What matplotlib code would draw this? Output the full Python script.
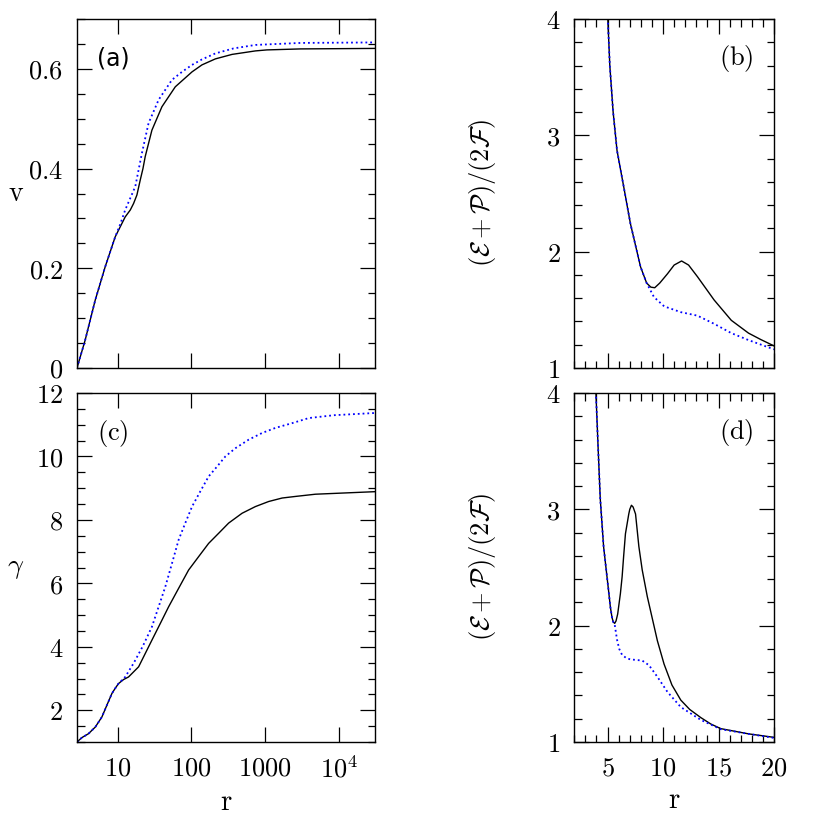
import numpy as np
import matplotlib
matplotlib.use("Agg")
import matplotlib.pyplot as plt
from matplotlib.ticker import FixedLocator, FixedFormatter, MultipleLocator, LogLocator, NullFormatter

plt.rcParams['mathtext.fontset'] = 'cm'
plt.rcParams['font.family'] = ['DejaVu Serif']

# (a) v versus r
a_black_r = [2.83, 3.65, 4.99, 6.81, 9.3, 12.7, 14.9, 16.5, 18.3, 20.3, 22.1, 23.7, 29.2, 39.9, 60.5, 102, 139, 211, 355, 735, 1050, 3000, 30500]
a_black_v = [0.0, 0.056, 0.136, 0.203, 0.263, 0.303, 0.317, 0.33, 0.347, 0.377, 0.40, 0.424, 0.477, 0.524, 0.564, 0.594, 0.608, 0.620, 0.629, 0.636, 0.638, 0.640, 0.641]
a_blue_r = [2.83, 3.65, 4.99, 6.81, 9.3, 11.0, 12.7, 17.4, 21.4, 26.3, 36, 54.6, 74.6, 102, 139, 211, 372, 735, 3000, 30500]
a_blue_v = [0.0, 0.056, 0.136, 0.203, 0.263, 0.29, 0.317, 0.364, 0.431, 0.491, 0.538, 0.578, 0.594, 0.608, 0.619, 0.631, 0.641, 0.648, 0.652, 0.653]

# (c) gamma versus r
c_black_r = [2.83, 3.3, 4.04, 5.0, 6.15, 7.18, 8.4, 9.3, 10.3, 12.1, 14.1, 19.3, 29.2, 38, 49.1, 67, 91.6, 125, 171, 234, 319, 485, 734, 1110, 1690, 2560, 4770, 30500]
c_black_g = [1.0, 1.14, 1.26, 1.47, 1.79, 2.16, 2.53, 2.69, 2.84, 2.97, 3.05, 3.37, 4.21, 4.74, 5.26, 5.84, 6.42, 6.84, 7.26, 7.58, 7.9, 8.21, 8.42, 8.58, 8.69, 8.74, 8.81, 8.89]
c_blue_r = [2.83, 3.3, 4.04, 5.0, 6.15, 7.18, 8.4, 9.3, 10.3, 12.7, 16.5, 22, 29.2, 44.3, 54.6, 67.1, 82.6, 102, 132, 171, 222, 288, 394, 596, 906, 1370, 2310, 3870, 8500, 30500]
c_blue_g = [1.0, 1.14, 1.26, 1.47, 1.79, 2.16, 2.53, 2.69, 2.84, 3.05, 3.48, 4.02, 4.63, 5.89, 6.63, 7.37, 7.9, 8.42, 8.9, 9.37, 9.68, 10.0, 10.26, 10.53, 10.74, 10.9, 11.05, 11.21, 11.3, 11.37]

# (b) (E+P)/(2F) versus r
b_black_r = [5.0, 5.2, 5.5, 5.85, 6.45, 7.06, 7.97, 8.52, 8.9, 9.25, 9.7, 10.4, 11.0, 11.67, 12.3, 13.1, 14.6, 16.15, 17.7, 18.8, 20.0]
b_black_y = [4.05, 3.6, 3.2, 2.87, 2.56, 2.24, 1.87, 1.73, 1.695, 1.69, 1.73, 1.81, 1.885, 1.92, 1.885, 1.785, 1.585, 1.41, 1.30, 1.245, 1.19]
b_blue_r = [5.0, 5.2, 5.5, 5.85, 6.45, 7.06, 7.97, 8.52, 9.18, 10.1, 11.6, 13.1, 14.6, 16.15, 17.7, 20.0]
b_blue_y = [4.05, 3.6, 3.2, 2.87, 2.56, 2.24, 1.87, 1.73, 1.61, 1.53, 1.48, 1.45, 1.38, 1.30, 1.24, 1.16]

# (d) (E+P)/(2F) versus r
d_black_r = [3.93, 4.15, 4.34, 4.64, 5.09, 5.25, 5.4, 5.52, 5.64, 5.76, 5.91, 6.155, 6.31, 6.45, 6.61, 6.91, 7.0, 7.15, 7.3, 7.52, 7.82, 8.12, 8.58, 9.49, 10.09, 10.8, 11.6, 12.4, 13.4, 14.3, 15.2, 17.7, 20.0]
d_black_y = [4.05, 3.52, 3.09, 2.68, 2.30, 2.16, 2.07, 2.03, 2.02, 2.04, 2.10, 2.276, 2.42, 2.6, 2.79, 2.96, 3.0, 3.035, 3.02, 2.96, 2.68, 2.48, 2.25, 1.87, 1.67, 1.49, 1.36, 1.28, 1.21, 1.155, 1.115, 1.07, 1.04]
d_blue_r = [3.93, 4.15, 4.34, 4.64, 5.09, 5.25, 5.4, 5.52, 5.64, 5.85, 6.05, 6.3, 6.7, 7.06, 7.6, 8.12, 8.73, 9.49, 10.4, 11.6, 13.4, 15.2, 17.7, 20.0]
d_blue_y = [4.05, 3.52, 3.09, 2.68, 2.30, 2.16, 2.07, 2.03, 2.01, 1.88, 1.80, 1.75, 1.72, 1.71, 1.705, 1.70, 1.66, 1.56, 1.43, 1.30, 1.19, 1.11, 1.07, 1.035]

log_ticks = [10, 100, 1000, 1e4]
log_labels = ['10', '100', '1000', '10^4']
v_ticks = [0, 0.2, 0.4, 0.6]
v_labels = ['0', '0.2', '0.4', '0.6']
g_ticks = [2, 4, 6, 8, 10, 12]
g_labels = ['2', '4', '6', '8', '10', '12']
e_ticks = [1, 2, 3, 4]
e_labels = ['1', '2', '3', '4']
lin_ticks = [5, 10, 15, 20]
lin_labels = ['5', '10', '15', '20']

fig = plt.figure(figsize=(8.17, 8.17), dpi=100)
W, H = 817.0, 817.0
def box(l, t, r, b):
    return [l / W, 1 - b / H, (r - l) / W, (b - t) / H]

ax_a = fig.add_axes(box(77, 19, 375, 368))
ax_c = fig.add_axes(box(77, 393, 375, 742))
ax_b = fig.add_axes(box(574.3, 19, 774, 368))
ax_d = fig.add_axes(box(574.3, 393, 774, 742))

def mathfmt(labels):
    return FixedFormatter(['$\\mathrm{%s}$' % s if '^' not in s else '$%s$' % s for s in labels])

def style(ax):
    for s in ax.spines.values():
        s.set_linewidth(1.0)
    ax.tick_params(which='both', direction='in', top=True, right=True, width=0.9, labelsize=19, pad=10)
    ax.tick_params(which='major', length=10.8)
    ax.tick_params(which='minor', length=5.4)

blue = '#0000ff'

for ax, br, by, ur, uy in [(ax_a, a_black_r, a_black_v, a_blue_r, a_blue_v),
                           (ax_c, c_black_r, c_black_g, c_blue_r, c_blue_g)]:
    ax.plot(br, by, color='black', lw=1.0)
    ax.plot(ur, uy, color=blue, lw=1.3, ls=':')
    ax.set_xscale('log')
    ax.set_xlim(2.83, 3.05e4)
    ax.xaxis.set_major_locator(FixedLocator(log_ticks))
    ax.xaxis.set_minor_locator(LogLocator(base=10, subs=np.arange(2, 10)))
    ax.xaxis.set_minor_formatter(NullFormatter())
    style(ax)

ax_a.set_ylim(0, 0.7)
ax_a.yaxis.set_major_locator(FixedLocator(v_ticks))
ax_a.yaxis.set_major_formatter(mathfmt(v_labels))
ax_a.yaxis.set_minor_locator(MultipleLocator(0.05))
ax_a.tick_params(labelbottom=False)

ax_c.set_ylim(1, 12)
ax_c.yaxis.set_major_locator(FixedLocator(g_ticks))
ax_c.yaxis.set_major_formatter(mathfmt(g_labels))
ax_c.yaxis.set_minor_locator(MultipleLocator(0.5))
ax_c.xaxis.set_major_formatter(mathfmt(log_labels))

for ax, br, by, ur, uy in [(ax_b, b_black_r, b_black_y, b_blue_r, b_blue_y),
                           (ax_d, d_black_r, d_black_y, d_blue_r, d_blue_y)]:
    ax.plot(br, by, color='black', lw=1.0)
    ax.plot(ur, uy, color=blue, lw=1.3, ls=':')
    ax.set_xlim(2, 20)
    ax.set_ylim(1, 4)
    ax.xaxis.set_major_locator(FixedLocator(lin_ticks))
    ax.xaxis.set_minor_locator(MultipleLocator(1))
    ax.yaxis.set_major_locator(FixedLocator(e_ticks))
    ax.yaxis.set_major_formatter(mathfmt(e_labels))
    ax.yaxis.set_minor_locator(MultipleLocator(0.2))
    style(ax)
    ax.set_ylabel(r'$(\mathcal{E}+\mathcal{P})/(2\mathcal{F})$', fontsize=19)
    ax.yaxis.label.set_va('center')
    ax.yaxis.set_label_coords(-0.462, 0.5)

ax_b.tick_params(labelbottom=False)
ax_d.xaxis.set_major_formatter(mathfmt(lin_labels))

ax_a.set_ylabel(r'$\mathrm{v}$', fontsize=20, rotation=0)
ax_c.set_ylabel(r'$\gamma$', fontsize=20, rotation=0)
for ax in (ax_a, ax_c):
    ax.yaxis.label.set_va('center')
    ax.yaxis.set_label_coords(-0.205, 0.5)

for ax in (ax_c, ax_d):
    ax.set_xlabel(r'$\mathrm{r}$', fontsize=21, labelpad=4)

ax_a.text(0.067, 0.888, '(a)', transform=ax_a.transAxes, fontsize=17, va='center', ha='left', family='DejaVu Sans')
ax_c.text(0.067, 0.885, r'$\mathrm{(c)}$', transform=ax_c.transAxes, fontsize=19, va='center', ha='left')
ax_b.text(0.895, 0.888, r'$\mathrm{(b)}$', transform=ax_b.transAxes, fontsize=19, va='center', ha='right')
ax_d.text(0.895, 0.888, r'$\mathrm{(d)}$', transform=ax_d.transAxes, fontsize=19, va='center', ha='right')

fig.savefig('out.png', dpi=100)
